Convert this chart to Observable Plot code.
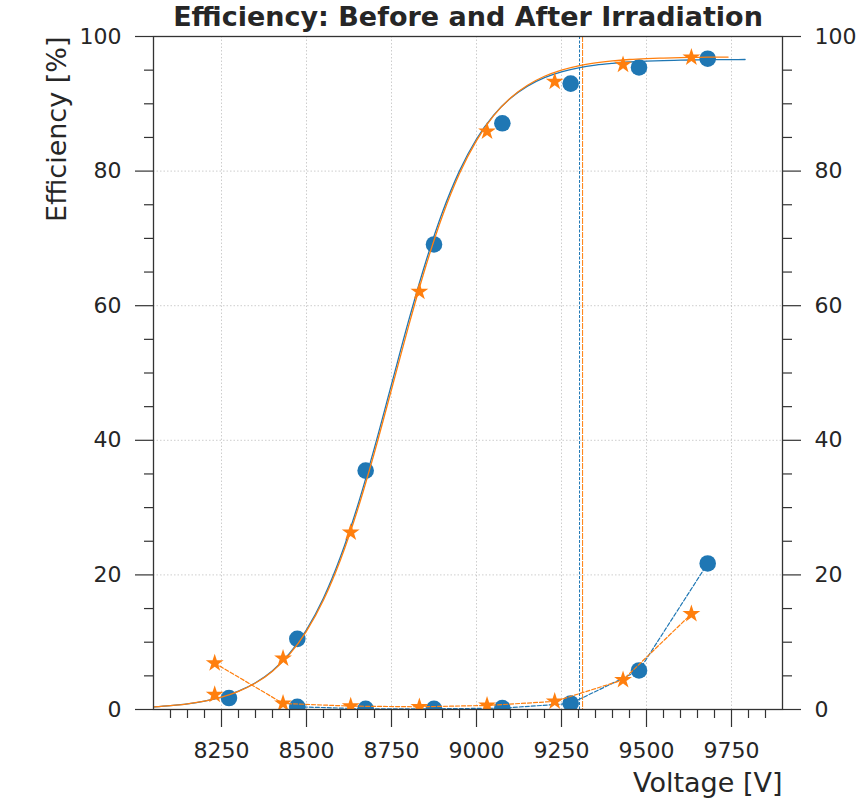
<!DOCTYPE html>
<html>
<head>
<meta charset="utf-8">
<script src="https://cdn.jsdelivr.net/npm/d3@7"></script>
<script src="https://cdn.jsdelivr.net/npm/@observablehq/plot@0.6"></script>
<style>
  body { margin: 0; background: #fff; }
  #chart svg { display: block; }
</style>
</head>
<body>
<div id="chart"></div>
<script>
// ---- Data ----
const titleText = "Efficiency: Before and After Irradiation";
const xLabel = "Voltage [V]";
const yLabel = "Efficiency [%]";

const xTicks = [8250, 8500, 8750, 9000, 9250, 9500, 9750];
const yTicks = [0, 20, 40, 60, 80, 100];
const yGrid = [20, 40, 60, 80];

// Before irradiation (blue circles)
const blueV = [8272, 8473, 8674, 8875, 9076, 9277, 9478, 9680];
const blueEff = [1.7, 10.5, 35.5, 69.1, 87.1, 93.0, 95.4, 96.7];
const blueLowV = [8473, 8674, 8875, 9076, 9277, 9478, 9680];
const blueLow = [0.4, 0.1, 0.1, 0.2, 0.9, 5.8, 21.7];

// After irradiation (orange stars)
const orangeV = [8230, 8431, 8630, 8832, 9031, 9230, 9431, 9632];
const orangeEff = [2.2, 7.6, 26.3, 62.1, 85.9, 93.3, 95.8, 96.9];
const orangeLow = [6.9, 0.9, 0.5, 0.4, 0.6, 1.2, 4.4, 14.2];

// Fitted curves
const fitVBlue = [8050, 8100, 8150, 8200, 8250, 8300, 8350, 8400, 8450, 8500, 8550, 8600, 8650, 8700, 8750, 8800, 8850, 8900, 8950, 9000, 9050, 9100, 9150, 9200, 9250, 9300, 9350, 9400, 9450, 9500, 9550, 9600, 9650, 9700, 9750, 9790];
const fitBlue = [0.39, 0.58, 0.85, 1.26, 1.85, 2.72, 3.97, 5.77, 8.32, 11.84, 16.57, 22.69, 30.21, 38.91, 48.30, 57.70, 66.39, 73.91, 80.03, 84.77, 88.28, 90.82, 92.63, 93.89, 94.75, 95.35, 95.76, 96.02, 96.21, 96.34, 96.43, 96.48, 96.52, 96.55, 96.57, 96.58];
const fitVOrange = [8050, 8100, 8150, 8200, 8250, 8300, 8350, 8400, 8450, 8500, 8550, 8600, 8650, 8700, 8750, 8800, 8850, 8900, 8950, 9000, 9050, 9100, 9150, 9200, 9250, 9300, 9350, 9400, 9450, 9500, 9550, 9600, 9650, 9700, 9740];
const fitOrange = [0.39, 0.58, 0.85, 1.25, 1.84, 2.69, 3.93, 5.70, 8.19, 11.65, 16.27, 22.26, 29.65, 38.23, 47.55, 56.93, 65.72, 73.37, 79.64, 84.53, 88.20, 90.87, 92.76, 94.09, 95.01, 95.65, 96.08, 96.38, 96.58, 96.71, 96.80, 96.87, 96.91, 96.94, 96.95];

// Working-point vertical lines
const blueWP = [9303];
const orangeWP = [9312];

// ---- Build tables ----
const zip = (xs, ys) => xs.map((x, i) => ({x, y: ys[i]}));
const blueUp = zip(blueV, blueEff);
const blueDown = zip(blueLowV, blueLow);
const orangeUp = zip(orangeV, orangeEff);
const orangeDown = zip(orangeV, orangeLow);
const blueFit = zip(fitVBlue, fitBlue);
const orangeFit = zip(fitVOrange, fitOrange);

const xMinor = d3.range(8100, 9900, 50).filter(v => !xTicks.includes(v));
const yMinor = d3.range(5, 100, 5).filter(v => !yTicks.includes(v));

const BLUE = "#1f77b4", ORANGE = "#ff7f0e";
const AX = "#333333";

const chart = Plot.plot({
  width: 861,
  height: 801,
  marginLeft: 153,
  marginRight: 79,
  marginTop: 36,
  marginBottom: 92,
  x: {domain: [8050, 9900]},
  y: {domain: [0, 100]},
  style: {fontFamily: "DejaVu Sans", color: "#262626", background: "white", overflow: "visible"},
  marks: [
    Plot.gridX(xTicks, {stroke: "#b0b0b0", strokeOpacity: 0.8, strokeDasharray: "1.5,2", strokeWidth: 0.8}),
    Plot.gridY(yGrid, {stroke: "#b0b0b0", strokeOpacity: 0.8, strokeDasharray: "1.5,2", strokeWidth: 0.8}),
    Plot.ruleX(blueWP, {stroke: BLUE, strokeWidth: 1, strokeDasharray: "3,1.5"}),
    Plot.ruleX(orangeWP, {stroke: ORANGE, strokeWidth: 1, strokeDasharray: "6,1"}),

    Plot.line(blueFit, {x: "x", y: "y", stroke: BLUE, strokeWidth: 1.3, curve: "monotone-x", clip: true}),
    Plot.line(blueDown, {x: "x", y: "y", stroke: BLUE, strokeWidth: 1.2, strokeDasharray: "4,2", clip: true}),
    Plot.dot(blueUp, {x: "x", y: "y", r: 8.3, fill: BLUE, clip: true}),
    Plot.dot(blueDown, {x: "x", y: "y", r: 8.3, fill: BLUE, clip: true}),

    Plot.line(orangeFit, {x: "x", y: "y", stroke: ORANGE, strokeWidth: 1.3, curve: "monotone-x", clip: true}),
    Plot.line(orangeDown, {x: "x", y: "y", stroke: ORANGE, strokeWidth: 1.2, strokeDasharray: "4,2", clip: true}),
    Plot.dot(orangeUp, {x: "x", y: "y", symbol: "star", r: 5.6, fill: ORANGE, clip: true}),
    Plot.dot(orangeDown, {x: "x", y: "y", symbol: "star", r: 5.6, fill: ORANGE, clip: true}),

    Plot.frame({stroke: AX, strokeWidth: 1.3}),

    Plot.axisX(xTicks, {anchor: "bottom", tickSize: 18, tickPadding: 15, fontSize: 22, tickFormat: d => String(d), label: null, stroke: AX, strokeWidth: 1.2}),
    Plot.axisX(xMinor, {anchor: "bottom", tickSize: 9, tickFormat: () => "", label: null, stroke: AX, strokeWidth: 1.2}),
    Plot.axisY(yTicks, {anchor: "left", tickSize: 18, tickPadding: 14, fontSize: 22, tickFormat: d => String(d), label: null, stroke: AX, strokeWidth: 1.2}),
    Plot.axisY(yMinor, {anchor: "left", tickSize: 9, tickFormat: () => "", label: null, stroke: AX, strokeWidth: 1.2}),
    Plot.axisY(yTicks, {anchor: "right", tickSize: 18, tickPadding: 14, fontSize: 22, tickFormat: d => String(d), label: null, stroke: AX, strokeWidth: 1.2}),
    Plot.axisY(yMinor, {anchor: "right", tickSize: 9, tickFormat: () => "", label: null, stroke: AX, strokeWidth: 1.2}),

    Plot.text([xLabel], {text: d => d, frameAnchor: "bottom-right", dy: 82, textAnchor: "end", fontSize: 27, fill: "#262626"}),
    Plot.text([yLabel], {text: d => d, frameAnchor: "top-left", dx: -107, rotate: -90, textAnchor: "end", fontSize: 27, fill: "#262626"}),
    Plot.text([titleText], {text: d => d, frameAnchor: "top", dy: -30, fontSize: 27, fontWeight: "bold", fill: "#262626"})
  ]
});
document.getElementById("chart").appendChild(chart);
</script>
</body>
</html>
